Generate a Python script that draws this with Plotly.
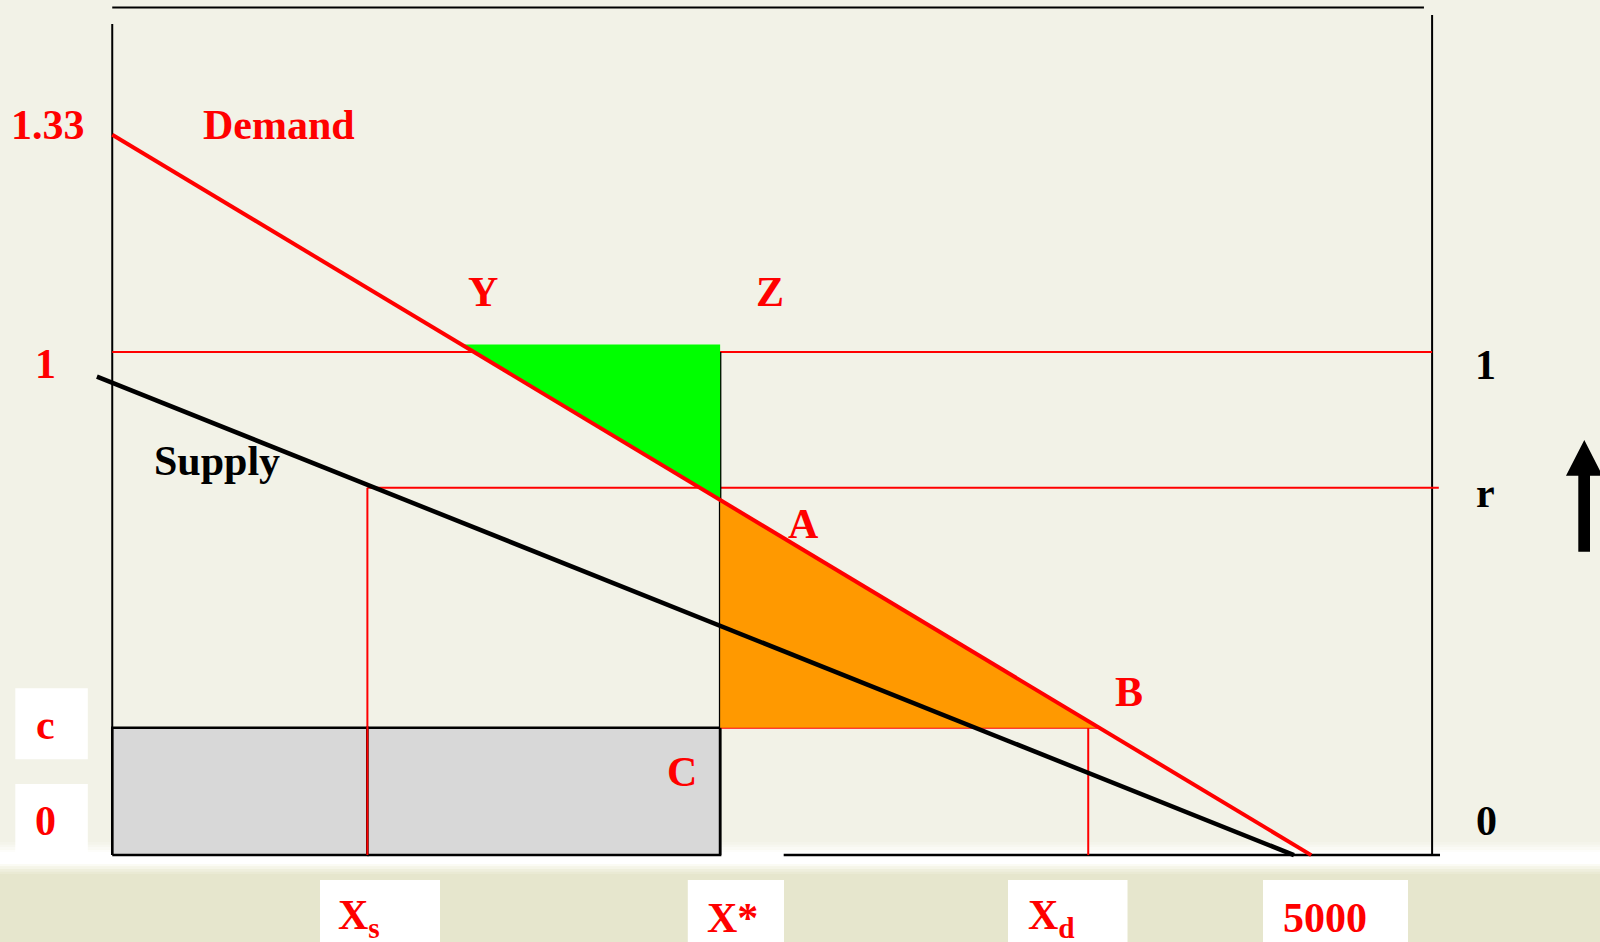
import plotly.graph_objects as go

# ---------------- data (diagram units: quantity, price) ----------------
demand_q = [0, 5000]
demand_p = [1.432, 0.0]
supply_q = [-64, 4928]
supply_p = [0.951, 0.0]

q_levels = [1064, 2535, 4070, 5000]          # Xs, X*, Xd, 5000
q_labels = ["X<sub>s</sub>", "X*", "X<sub>d</sub>", "5000"]
p_one, p_r, p_c = 1.0, 0.730, 0.253
left_labels = ["1.33", "1", "c", "0"]
right_labels = ["1", "r", "0"]

gain_q = [1456, 2535, 2535]                   # green triangle Y-Z-(X*,demand)
gain_p = [1.015, 1.015, 0.706]
loss_q = [2535, 4118, 2535]                   # orange triangle A-B-(X*,c)
loss_p = [0.706, 0.253, 0.253]

frame_right_q = 5504
frame_top = [0, 5470, 1.685]                  # top rule q0, q1, p
left_axis_top = 1.652
right_axis_top = 1.670
bottom_rule_q = [2800, 5537]
r_line_end = 5532

Q_XS, Q_XSTAR, Q_XD, Q_MAX = q_levels
Q_Y, Q_B = gain_q[0], loss_q[1]

# ---------------- figure ----------------
W, H = 1600, 942
BG = "#F2F2E7"
RED = "#FF0000"
FONT = "Liberation Serif"

fig = go.Figure()

def seg(xs, ys, color, width):
    fig.add_trace(go.Scatter(x=xs, y=ys, mode="lines",
                             line=dict(color=color, width=width),
                             hoverinfo="skip", showlegend=False, cliponaxis=False))

# grey cost boxes
for x0, x1 in [(0, Q_XS), (Q_XS, Q_XSTAR)]:
    fig.add_trace(go.Scatter(x=[x0, x1, x1, x0, x0], y=[0, 0, p_c, p_c, 0],
                             mode="lines", fill="toself", fillcolor="#D8D8D8",
                             line=dict(color="black", width=2.5),
                             hoverinfo="skip", showlegend=False))

# frame
seg([frame_top[0], frame_top[1]], [frame_top[2], frame_top[2]], "black", 2)
seg([0, 0], [0, left_axis_top], "black", 2)
seg([frame_right_q, frame_right_q], [0, right_axis_top], "black", 2)
seg(bottom_rule_q, [0, 0], "black", 2.5)

# thin red guides
seg([0, frame_right_q], [p_one, p_one], RED, 2)
seg([Q_XS, r_line_end], [p_r, p_r], RED, 2)
seg([Q_XS, Q_XS], [0, p_r], RED, 2)
seg([Q_XSTAR, Q_B], [p_c, p_c], RED, 2)
seg([Q_XD, Q_XD], [0, p_c], RED, 2)
seg([Q_XSTAR, Q_XSTAR], [0, p_one], "black", 2.5)

# shaded areas
fig.add_trace(go.Scatter(x=gain_q + [gain_q[0]], y=gain_p + [gain_p[0]], mode="lines",
                         fill="toself", fillcolor="#00FF00", line=dict(width=0),
                         hoverinfo="skip", showlegend=False))
fig.add_trace(go.Scatter(x=loss_q + [loss_q[0]], y=loss_p + [loss_p[0]], mode="lines",
                         fill="toself", fillcolor="#FF9900", line=dict(width=0),
                         hoverinfo="skip", showlegend=False))

# demand / supply
seg(supply_q, supply_p, "black", 4.5)
seg(demand_q, demand_p, RED, 4)

# ---------------- background decoration (paper coords from pixels) ----------------
def px(x):
    return x / W

def py(y):
    return 1 - y / H

shapes = []
def rect(x0, y0, x1, y1, color, layer="below"):
    shapes.append(dict(type="rect", xref="paper", yref="paper",
                       x0=px(x0), x1=px(x1), y0=py(y1), y1=py(y0),
                       fillcolor=color, line=dict(width=0), layer=layer))

# bottom band with white highlight strip
grad_top = ["#F4F4EB", "#F7F7F0", "#FAFAF5", "#FDFDFA"]
for i, c in enumerate(grad_top):
    rect(0, 842 + i * 2.5, W, 844.5 + i * 2.5, c)
rect(0, 852, W, 864, "#FFFFFF")
grad_bot = ["#FBFBF4", "#F5F5E8", "#EFEFDD", "#EAEAD4"]
for i, c in enumerate(grad_bot):
    rect(0, 864 + i * 2.5, W, 866.5 + i * 2.5, c)
rect(0, 874, W, H, "#E6E6CD")

# white label boxes
for (x0, y0, x1, y1) in [(15.3, 688.3, 87.8, 759.3), (15.3, 784, 87.8, 856),
                         (320, 880, 440, H), (687.8, 880, 784, H),
                         (1008, 880, 1127.5, H), (1263, 880, 1408, H)]:
    rect(x0, y0, x1, y1, "#FFFFFF")

# upward arrow
pts = [(1578.3, 551.8), (1590, 551.8), (1590, 475.7), (1602.6, 475.7),
       (1584.3, 440), (1566, 475.7), (1578.3, 475.7)]
path = "M " + " L ".join(f"{px(a):.5f},{py(b):.5f}" for a, b in pts) + " Z"
shapes.append(dict(type="path", xref="paper", yref="paper", path=path,
                   fillcolor="black", line=dict(width=0), layer="above"))

# ---------------- text ----------------
ann = []
def label(text, x, y, dx, dy, color=RED, size=42, xanchor="center", yanchor="middle"):
    ann.append(dict(text=text, x=x, y=y, xref="x", yref="y", xshift=dx, yshift=dy,
                    showarrow=False, xanchor=xanchor, yanchor=yanchor,
                    font=dict(family=FONT, size=size, color=color, weight="bold")))

label(left_labels[0], 0, demand_p[0], -64, 10)
label("Demand", 0, demand_p[0], 167, 10)
label(left_labels[1], 0, p_one, -67, -12)
label(left_labels[2], 0, p_c, -67, 3)
label(left_labels[3], 0, 0, -67, 34)

label(right_labels[0], frame_right_q, p_one, 53.5, -12.6, color="black")
label(right_labels[1], frame_right_q, p_r, 53, -5, color="black")
label(right_labels[2], frame_right_q, 0, 54, 34, color="black")

label("Y", Q_Y, gain_p[0], 22, 52)
label("Z", Q_XSTAR, gain_p[0], 49.5, 52)
label("A", Q_XSTAR, gain_p[2], 83, -24)
label("B", Q_B, p_c, 29, 35.5)
label("C", Q_XSTAR, p_c, -38, -44)
label("Supply", supply_q[0], supply_p[0], 120.4, -84, color="black")

x_shifts = [-8, 12, -37, 14]
for q, t, dx in zip(q_levels, q_labels, x_shifts):
    label(t, q, 0, dx, -62.5)

# ---------------- axes: map to full canvas ----------------
X0, KX = 112.24, 0.2398     # px of q=0, px per unit q
Y0, KY = 855.1, 503.06      # px of p=0, px per unit p
xr = [(0 - X0) / KX, (W - X0) / KX]
yr = [(Y0 - H) / KY, (Y0 - 0) / KY]

fig.update_layout(
    width=W, height=H, autosize=False,
    margin=dict(l=0, r=0, t=0, b=0, pad=0),
    paper_bgcolor=BG, plot_bgcolor="rgba(0,0,0,0)",
    xaxis=dict(range=xr, visible=False, fixedrange=True),
    yaxis=dict(range=yr, visible=False, fixedrange=True),
    shapes=shapes, annotations=ann, showlegend=False,
)

fig.write_html(
    "out.html",
    config={"displayModeBar": False},
    post_script="document.body.style.margin='0';document.body.style.overflow='hidden';"
                "document.body.style.background='" + BG + "';",
)
